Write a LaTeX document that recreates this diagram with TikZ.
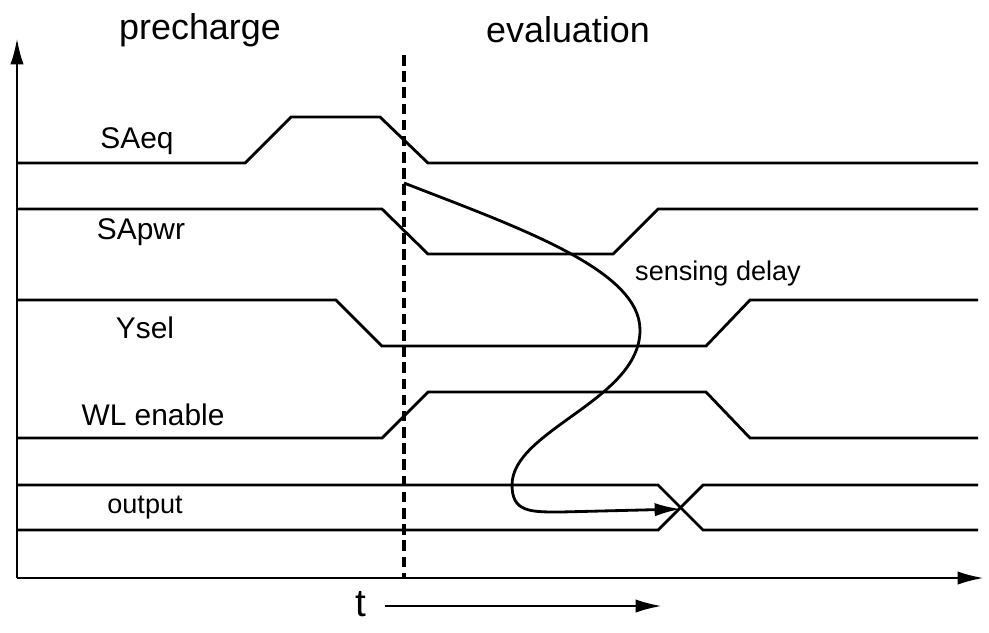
\documentclass[tikz,border=0pt]{standalone}
\usepackage{fontspec}
\setmainfont{Liberation Sans}
\usetikzlibrary{arrows.meta}

\begin{document}
\begin{tikzpicture}[x=0.01cm,y=-0.01cm,line width=0.8pt,
    every node/.style={font=\fontsize{8.5}{10}\selectfont,inner sep=0pt},
    wave/.style={line join=miter},
    phase/.style={font=\fontsize{10.2}{12}\selectfont},
    tip/.style={-{Latex[length=7.5pt,width=3.8pt]}}]
    \useasboundingbox (0,0) rectangle (989,632);
    % axes
    \coordinate (o) at (17,578);
    \coordinate (ytop) at (17,38);
    \coordinate (xend) at (984,578);
    \draw[tip] (o)--(ytop);
    \draw[tip] (o)--(xend);
    % phase boundary
    \coordinate (bt) at (404,55);
    \coordinate (bb) at (404,578);
    \draw[line width=1pt,dash pattern=on 3pt off 1.6pt] (bt)--(bb);
    \node[phase] (pre) at (200,30) {precharge};
    \node[phase] (eval) at (568,30) {evaluation};
    % signals
    \draw[wave] (17,163)--(245,163)--(291,117)--(380,117)--(428,163)--(978,163);
    \draw[wave] (17,209)--(382,209)--(428,254)--(613,254)--(658,209)--(978,209);
    \draw[wave] (17,300)--(336,300)--(382,346)--(706,346)--(750,300)--(978,300);
    \draw[wave] (17,438)--(382,438)--(428,392)--(706,392)--(750,438)--(978,438);
    \draw[wave] (17,485)--(658,485)--(703,530)--(978,530);
    \draw[wave] (17,530)--(658,530)--(703,485)--(978,485);
    \node (saeq) at (137,141) {SAeq};
    \node (sapwr) at (141,232) {SApwr};
    \node (ysel) at (145,328) {Ysel};
    \node (wl) at (153,415) {WL enable};
    \node[font=\fontsize{7.7}{9}\selectfont] (out) at (145,508) {output};
    % sensing delay
    \coordinate (ds) at (404,183);
    \coordinate (de) at (681,509);
    \draw[tip] (ds) .. controls (520,228) and (640,270) .. (640,330)
      .. controls (640,400) and (512,430) .. (512,485)
      .. controls (512,512) and (530,512) .. (560,512) -- (de);
    \node[font=\fontsize{7.7}{9}\selectfont] (delay) at (718,273) {sensing delay};
    % time
    \node[font=\fontsize{11}{13}\selectfont] (t) at (361,604) {t};
    \coordinate (ts) at (385,606);
    \coordinate (te) at (662,606);
    \draw[tip] (ts)--(te);
  \end{tikzpicture}
\end{document}
